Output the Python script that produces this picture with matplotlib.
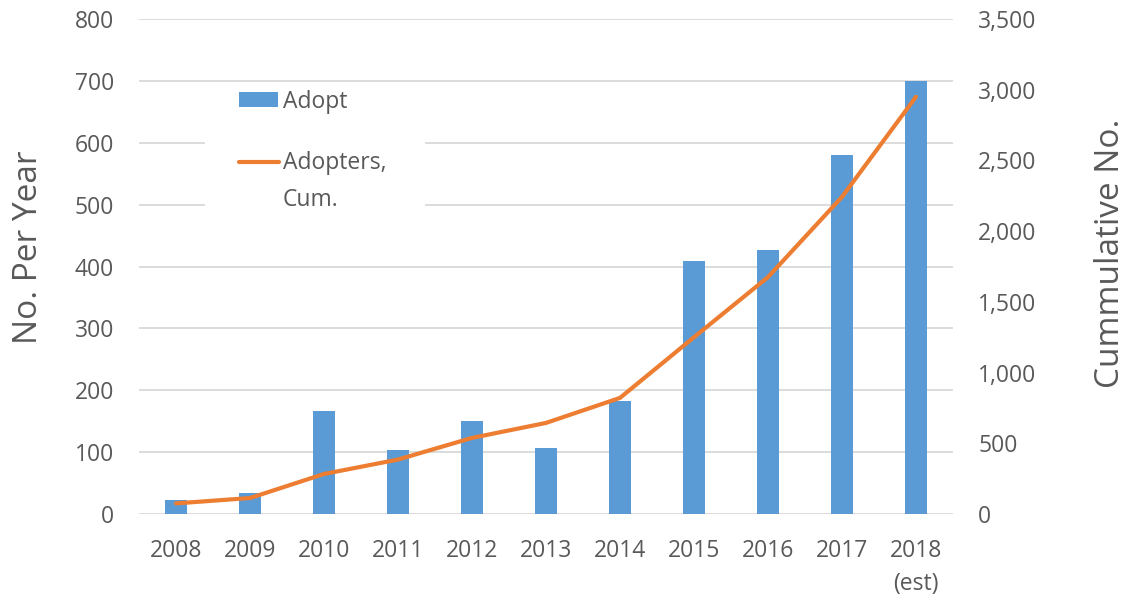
import matplotlib
matplotlib.use("Agg")
import matplotlib.pyplot as plt
from matplotlib.patches import Rectangle
from matplotlib.lines import Line2D
from matplotlib.ticker import FuncFormatter, MultipleLocator

years = ["2008", "2009", "2010", "2011", "2012", "2013", "2014", "2015", "2016", "2017", "2018\n(est)"]
adopt_per_year = [23, 34, 167, 104, 150, 106, 183, 409, 427, 581, 700]
adopters_cum = [75, 113, 283, 385, 538, 644, 821, 1250, 1675, 2242, 2950]

BAR_BLUE = "#5B9BD5"
LINE_ORANGE = "#ED7D31"
GRID = "#D9D9D9"
TEXT = "#595959"

plt.rcParams["font.family"] = ["Open Sans", "DejaVu Sans"]

W, H = 1127, 603
fig = plt.figure(figsize=(W / 100, H / 100), dpi=100)
ax = fig.add_axes([139 / W, 1 - 514 / H, (953 - 139) / W, (514 - 19) / H])
ax2 = ax.twinx()

x = list(range(len(years)))
ax.bar(x, adopt_per_year, width=0.31, color=BAR_BLUE, zorder=2)
ax2.plot(x, adopters_cum, color=LINE_ORANGE, linewidth=3, solid_capstyle="round", zorder=3)

ax.set_xlim(-0.5, len(years) - 0.5)
ax.set_ylim(0, 800)
ax2.set_ylim(0, 3500)
ax.yaxis.set_major_locator(MultipleLocator(100))
ax2.yaxis.set_major_locator(MultipleLocator(500))
ax2.yaxis.set_major_formatter(FuncFormatter(lambda v, p: f"{int(v):,}"))

ax.set_xticks(x)
ax.set_xticklabels(years, linespacing=1.5)
ax.grid(axis="y", color=GRID, linewidth=1.3, zorder=0)
ax.set_axisbelow(True)

TICK_SIZE = 16.5
for a in (ax, ax2):
    for s in a.spines.values():
        s.set_visible(False)
    a.tick_params(length=0, labelsize=TICK_SIZE, labelcolor=TEXT)
ax.tick_params(axis="y", pad=18)
ax2.tick_params(axis="y", pad=18)
ax.tick_params(axis="x", pad=18)

ax.set_ylabel("No. Per Year", fontsize=24, color=TEXT)
ax2.set_ylabel("Cummulative No.", fontsize=24, color=TEXT)
ax.yaxis.label.set_va("center")
ax2.yaxis.label.set_va("center")
ax.yaxis.set_label_coords(-0.136, 0.539)
ax2.yaxis.set_label_coords(1.193, 0.527)


def fx(px):
    return px / W


def fy(py):
    return 1 - py / H


# legend drawn in figure pixels, with a white box over the gridlines
fig.patches.append(Rectangle((fx(205), fy(215)), fx(425) - fx(205), fy(85) - fy(215),
                             transform=fig.transFigure, facecolor="white", edgecolor="none", zorder=5))
fig.patches.append(Rectangle((fx(239), fy(107)), fx(278) - fx(239), fy(92) - fy(107),
                             transform=fig.transFigure, facecolor=BAR_BLUE, edgecolor="none", zorder=6))
fig.lines.append(Line2D([fx(239), fx(279)], [fy(162), fy(162)], transform=fig.transFigure,
                        color=LINE_ORANGE, linewidth=3, solid_capstyle="round", zorder=6))
fig.text(fx(283), fy(108), "Adopt", fontsize=TICK_SIZE, color=TEXT, va="baseline", ha="left", zorder=7)
fig.text(fx(283), fy(169), "Adopters,", fontsize=TICK_SIZE, color=TEXT, va="baseline", ha="left", zorder=7)
fig.text(fx(283), fy(206), "Cum.", fontsize=TICK_SIZE, color=TEXT, va="baseline", ha="left", zorder=7)

fig.savefig("out.png", dpi=100, facecolor="white")
